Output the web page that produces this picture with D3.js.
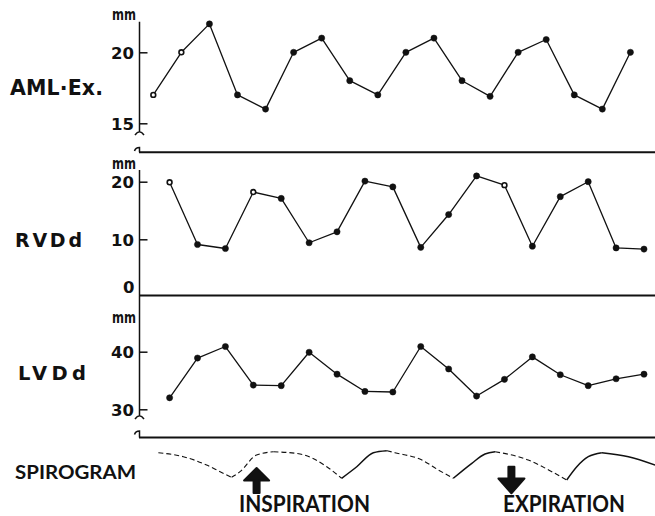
<!DOCTYPE html>
<html><head><meta charset="utf-8">
<script src="https://cdn.jsdelivr.net/npm/d3@7"></script>
<style>body{margin:0;background:#fff}svg{display:block}</style>
</head><body>
<svg id="c" width="655" height="516"></svg>
<script>
// ---------- data ----------
const beats = [1,2,3,4,5,6,7,8,9,10,11,12,13,14,15,16,17,18];
const amlValues = [17,20,22,17,16,20,21,18,17,20,21,18,16.9,20,20.9,17,16,20];
const rvdValues = [19.9,9.1,8.4,18.2,17.1,9.4,11.3,20.1,19.1,8.6,14.3,21,19.4,8.8,17.4,20,8.5,8.3];
const lvdValues = [32,38.9,40.9,34.2,34.1,39.9,36.1,33.1,33,40.9,37,32.3,35.2,39.1,36,34.1,35.3,36.1];
const amlOpen = [0,1];
const rvdOpen = [0,3,12];
const lvdOpen = [];
const amlTicks = [15,20];
const rvdTicks = [0,10,20];
const lvdTicks = [30,40];
const panelLabels = ["AML·Ex.","RVDd","LVDd"];
const unitLabel = "mm";
// spirogram, in beat units (time) and arbitrary volume units
const spiroSegments = [
  {dashed:true,  pts:[[1.18,9.1],[2.07,7.77],[2.90,5.0],[3.38,2.77],[3.79,0.9]]},
  {dashed:true,  pts:[[3.79,0.9],[4.09,2.77],[4.68,8.33],[5.28,9.43]]},
  {dashed:true,  pts:[[5.28,9.43],[6.23,8.67],[7.18,4.43],[7.71,0.57]]},
  {dashed:false, pts:[[7.71,0.57],[8.25,4.43],[8.84,9.1],[9.32,9.77]]},
  {dashed:true,  pts:[[9.32,9.77],[9.61,9.1],[10.57,6.67],[11.16,3.33],[11.69,0.57]]},
  {dashed:false, pts:[[11.69,0.57],[12.35,5.57],[12.82,8.67],[13.18,9.43]]},
  {dashed:true,  pts:[[13.18,9.43],[14.36,6.67],[15.20,2.77],[15.73,0]]},
  {dashed:false, pts:[[15.73,0],[16.09,4.43],[16.50,7.77],[16.98,9.1]]},
  {dashed:false, pts:[[16.98,9.1],[17.93,7.77],[18.88,5.0]]}
];
const phases = [
  {label:"INSPIRATION", t:4.68, dir:"up"},
  {label:"EXPIRATION",  t:13.76, dir:"down"}
];
const spiroLabel = "SPIROGRAM";

// ---------- layout ----------
const svg = d3.select("#c");
const W = 655;
const AX = 139.5;
const xTop = d3.scaleLinear().domain([1,18]).range([153.3,630.4]);
const xLow = d3.scaleLinear().domain([1,18]).range([169.6,644]);
const ink = "#111";

const panels = [
  {values:amlValues, open:amlOpen, ticks:amlTicks, xs:xTop,
   ys:d3.scaleLinear().domain([15,20]).range([123.3,52.3]),
   axisTop:21.7, brk:[132,147.5], base:152.3, mmY:20,
   label:panelLabels[0], lx:10, ly:95, lsize:20.5, lw:93},
  {values:rvdValues, open:rvdOpen, ticks:rvdTicks, xs:xLow,
   ys:d3.scaleLinear().domain([0,20]).range([296.9,181.7]),
   axisTop:170, brk:null, base:295.5, mmY:168.5,
   label:panelLabels[1], lx:15, ly:246.7, lsize:19, lw:67},
  {values:lvdValues, open:lvdOpen, ticks:lvdTicks, xs:xLow,
   ys:d3.scaleLinear().domain([30,40]).range([409.3,351.7]),
   axisTop:295.5, brk:[416,431], base:437.5, mmY:323,
   label:panelLabels[2], lx:18, ly:380, lsize:19.5, lw:68}
];

panels.forEach((p,pi) => {
  const g = svg.append("g");
  g.append("line").attr("x1",AX-0.5).attr("x2",W).attr("y1",p.base).attr("y2",p.base)
    .attr("stroke",ink).attr("stroke-width",2);
  if (p.brk) {
    const [b1,b2] = p.brk;
    g.append("path").attr("d",`M${AX},${p.axisTop}L${AX},${b1}M${AX-4.5},${b1+3}Q${AX},${b1-3.5} ${AX+4.5},${b1+3}`)
      .attr("fill","none").attr("stroke",ink).attr("stroke-width",1.5);
    g.append("path").attr("d",`M${AX-5},${b2+3.5}Q${AX-4},${b2} ${AX},${b2}L${AX},${p.base}`)
      .attr("fill","none").attr("stroke",ink).attr("stroke-width",1.5);
  } else {
    g.append("line").attr("x1",AX).attr("x2",AX).attr("y1",p.axisTop).attr("y2",p.base)
      .attr("stroke",ink).attr("stroke-width",1.5);
  }
  const axis = d3.axisLeft(p.ys).tickValues(p.ticks).tickSize(-8).tickPadding(5.5).tickFormat(d3.format("d"));
  const ag = g.append("g").attr("transform",`translate(${AX},0)`).call(axis);
  ag.select(".domain").remove();
  ag.selectAll("line").attr("stroke",ink).attr("stroke-width",1.5);
  ag.selectAll("text").attr("fill",ink).attr("font-family","DejaVu Sans").attr("font-weight","bold")
    .attr("font-size",16.5).attr("dy","0.36em");
  if (pi===1) {
    ag.selectAll(".tick").filter(d=>d===0).select("line").remove();
    ag.selectAll(".tick").filter(d=>d===0).select("text").attr("dy","-0.24em").attr("x",-5);
  }
  g.append("text").attr("x",136).attr("y",p.mmY).attr("text-anchor","end")
    .attr("font-family","DejaVu Sans").attr("font-weight","bold").attr("font-size",15)
    .attr("textLength",24).attr("lengthAdjust","spacingAndGlyphs").attr("fill",ink).text(unitLabel);
  g.append("text").attr("x",p.lx).attr("y",p.ly)
    .attr("font-family","DejaVu Sans").attr("font-weight","bold").attr("font-size",p.lsize)
    .attr("textLength",p.lw).attr("lengthAdjust","spacing").attr("fill",ink).text(p.label);
  const line = d3.line().x((d,i)=>p.xs(beats[i])).y(d=>p.ys(d));
  g.append("path").datum(p.values).attr("d",line).attr("fill","none")
    .attr("stroke",ink).attr("stroke-width",1.3).attr("stroke-linejoin","round");
  g.selectAll("circle").data(p.values).join("circle")
    .attr("cx",(d,i)=>p.xs(beats[i])).attr("cy",d=>p.ys(d))
    .attr("r",(d,i)=>p.open.includes(i)?2.4:3.1)
    .attr("fill",(d,i)=>p.open.includes(i)?"#fff":ink)
    .attr("stroke",ink).attr("stroke-width",(d,i)=>p.open.includes(i)?1.6:0.5);
});

// ---------- spirogram ----------
const ySpiro = d3.scaleLinear().domain([0,10]).range([480,450]);
const sLine = d3.line().x(d=>xTop(d[0])).y(d=>ySpiro(d[1])).curve(d3.curveMonotoneX);
svg.append("g").selectAll("path").data(spiroSegments).join("path")
  .attr("d",d=>sLine(d.pts)).attr("fill","none").attr("stroke",ink)
  .attr("stroke-width",d=>d.dashed?1.1:1.5)
  .attr("stroke-dasharray",d=>d.dashed?"5,3":null);

svg.append("text").attr("x",15).attr("y",479.3)
  .attr("font-family","Lato").attr("font-weight","bold").attr("font-size",19.5)
  .attr("textLength",121).attr("lengthAdjust","spacingAndGlyphs").attr("fill",ink).text(spiroLabel);

const phaseText = {INSPIRATION:{x:239,w:131}, EXPIRATION:{x:503,w:122}};
phases.forEach(ph => {
  const cx = xTop(ph.t);
  let d;
  if (ph.dir==="up") {
    d = `M${cx},468 L${cx+12.5},480.5 L${cx+3},480.5 L${cx+3},493 L${cx-3},493 L${cx-3},480.5 L${cx-12.5},480.5 Z`;
  } else {
    d = `M${cx},493.3 L${cx+13},478.5 L${cx+3},478.5 L${cx+3},466.7 L${cx-3},466.7 L${cx-3},478.5 L${cx-13},478.5 Z`;
  }
  svg.append("path").attr("d",d).attr("fill",ink).attr("stroke",ink)
    .attr("stroke-width",2).attr("stroke-linejoin","round");
  const pt = phaseText[ph.label];
  svg.append("text").attr("x",pt.x).attr("y",511.5)
    .attr("font-family","Lato").attr("font-weight","bold").attr("font-size",22.5)
    .attr("textLength",pt.w).attr("lengthAdjust","spacingAndGlyphs").attr("fill",ink).text(ph.label);
});
</script>
</body></html>
